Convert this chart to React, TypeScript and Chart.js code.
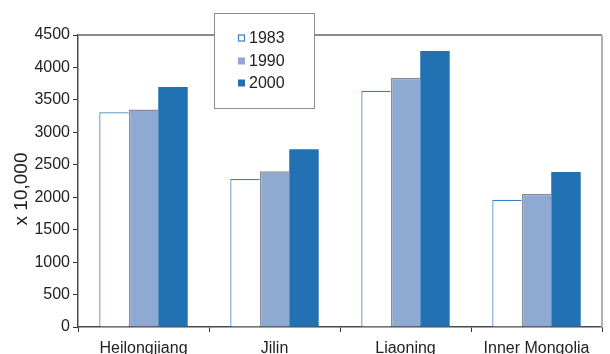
import React, { useEffect, useRef } from "react";
import { Chart, registerables } from "chart.js";

Chart.register(...registerables);

const categories = ["Heilongjiang", "Jilin", "Liaoning", "Inner Mongolia"];
const seriesLabels = ["1983", "1990", "2000"];
const values1983 = [3310, 2280, 3640, 1960];
const values1990 = [3350, 2400, 3840, 2055];
const values2000 = [3700, 2740, 4255, 2390];
const yTicks = [0, 500, 1000, 1500, 2000, 2500, 3000, 3500, 4000, 4500];
const yTitle = "x 10,000";

const FONT = "'Liberation Sans', Arial, Helvetica, sans-serif";

const frameAndLegend = {
  id: "frameAndLegend",
  afterDraw(chart: any) {
    const { ctx, chartArea } = chart;
    ctx.save();
    // top and right frame
    ctx.strokeStyle = "#8a8c8e";
    ctx.lineWidth = 2;
    ctx.beginPath();
    ctx.moveTo(chartArea.left, chartArea.top);
    ctx.lineTo(chartArea.right, chartArea.top);
    ctx.stroke();
    ctx.strokeStyle = "#aeb0b2";
    ctx.beginPath();
    ctx.moveTo(chartArea.right, chartArea.top);
    ctx.lineTo(chartArea.right, chartArea.bottom);
    ctx.stroke();

    // y-axis title
    ctx.save();
    ctx.translate(22, (chartArea.top + chartArea.bottom) / 2 + 8);
    ctx.rotate(-Math.PI / 2);
    ctx.font = "19px " + FONT;
    ctx.fillStyle = "#222222";
    ctx.textAlign = "center";
    ctx.textBaseline = "middle";
    ctx.fillText(yTitle, 0, 0);
    ctx.restore();

    // legend box
    const bx = 214.5, by = 13.5, bw = 100, bh = 95;
    ctx.fillStyle = "#ffffff";
    ctx.fillRect(bx, by, bw, bh);
    ctx.strokeStyle = "#8a8c8e";
    ctx.lineWidth = 1;
    ctx.strokeRect(bx, by, bw, bh);
    const ds = chart.data.datasets;
    ctx.font = "16px " + FONT;
    ctx.textBaseline = "middle";
    ctx.textAlign = "left";
    const ys = [38, 61, 83];
    ds.forEach((d: any, i: number) => {
      const y = ys[i];
      ctx.fillStyle = d.backgroundColor;
      ctx.fillRect(238, y - 3.5, 7, 7);
      if (d.legendStroke) {
        ctx.strokeStyle = d.legendStroke;
        ctx.lineWidth = 1.2;
        ctx.strokeRect(238.5, y - 3, 6, 6);
      }
      ctx.fillStyle = "#222222";
      ctx.fillText(d.label, 249, y + 1);
    });
    ctx.restore();
  },
};

export default function App() {
  const ref = useRef<HTMLCanvasElement | null>(null);
  useEffect(() => {
    document.body.style.margin = "0";
    const canvas = ref.current!;
    const chart = new Chart(canvas, {
      type: "bar",
      data: {
        labels: categories,
        datasets: [
          {
            label: seriesLabels[0],
            data: values1983,
            backgroundColor: "#ffffff",
            borderColor: "#3a7fc0",
            borderWidth: { top: 1.2, left: 1.2, right: 0, bottom: 0 },
            legendStroke: "#3a7fc0",
          } as any,
          {
            label: seriesLabels[1],
            data: values1990,
            backgroundColor: "#8eaad3",
            borderColor: "#8a8d92",
            borderWidth: { top: 1.5, left: 1.5, right: 0, bottom: 0 },
          } as any,
          {
            label: seriesLabels[2],
            data: values2000,
            backgroundColor: "#2272b3",
            borderWidth: 0,
          },
        ],
      },
      options: {
        responsive: false,
        animation: false,
        layout: { padding: { top: 35, right: 8, left: 0, bottom: 0 } },
        plugins: { legend: { display: false }, tooltip: { enabled: false } },
        datasets: { bar: { categoryPercentage: 0.675, barPercentage: 1 } },
        scales: {
          x: {
            grid: {
              offset: true,
              drawOnChartArea: false,
              drawTicks: true,
              tickLength: 5,
              color: "#333333",
              lineWidth: 1,
            },
            border: { color: "#4a4a4a", width: 1.5 },
            ticks: {
              color: "#222222",
              font: { family: FONT, size: 16 },
              padding: 7,
              maxRotation: 0,
              autoSkip: false,
            },
            afterFit(scale: any) {
              scale.height = 27;
            },
          },
          y: {
            min: 0,
            max: 4500,
            afterBuildTicks(scale: any) {
              scale.ticks = yTicks.map((v) => ({ value: v }));
            },
            grid: {
              drawOnChartArea: false,
              drawTicks: true,
              tickLength: 5,
              color: "#333333",
            },
            border: { color: "#4a4a4a", width: 1.5 },
            ticks: {
              color: "#222222",
              font: { family: FONT, size: 16 },
              padding: 3,
              callback: (v: any) => String(v),
            },
            afterFit(scale: any) {
              scale.width = 78;
            },
          },
        },
      },
      plugins: [frameAndLegend],
    });
    return () => chart.destroy();
  }, []);
  return (
    <div style={{ width: 610, height: 354 }}>
      <canvas ref={ref} width={610} height={354} />
    </div>
  );
}
